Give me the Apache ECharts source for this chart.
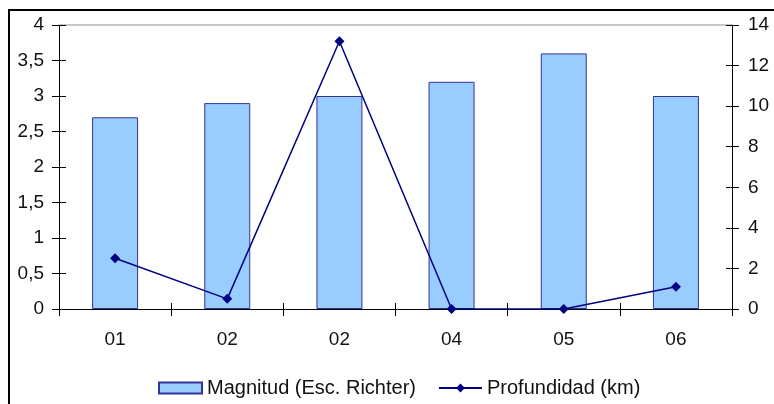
<!DOCTYPE html>
<html>
<head>
<meta charset="utf-8">
<script src="https://cdn.jsdelivr.net/npm/echarts@6/dist/echarts.min.js"></script>
<style>
  html, body { margin: 0; padding: 0; background: #fff; }
  #chart { width: 774px; height: 404px; }
</style>
</head>
<body>
<div id="chart"></div>
<script>
// Sismos: magnitud y profundidad por evento
const categories = ['01', '02', '02', '04', '05', '06'];
const magnitud = [2.7, 2.9, 3.0, 3.2, 3.6, 3.0];
const profundidad = [2.5, 0.5, 13.2, 0, 0, 1.1];
const magTicks = { min: 0, max: 4, interval: 0.5 };
const profTicks = { min: 0, max: 14, interval: 2 };

const font = 'Liberation Sans, Arial, sans-serif';
const labelStyle = { color: '#111', fontFamily: font, fontSize: 19 };

function commaFmt(v) { return String(v).replace('.', ','); }

const chart = echarts.init(document.getElementById('chart'), null, { renderer: 'canvas' });

const blackLine = { show: true, lineStyle: { color: '#000', width: 1 } };

chart.setOption({
  animation: false,
  backgroundColor: '#fff',
  grid: { left: 59, right: 42, top: 25, bottom: 95, containLabel: false },
  graphic: [{
    type: 'rect',
    shape: { x: 9, y: 10, width: 900, height: 600 },
    style: { fill: null, stroke: '#000', lineWidth: 2 },
    silent: true
  }],
  legend: {
    top: 373,
    left: 153,
    itemWidth: 43,
    itemHeight: 11,
    itemGap: 22,
    textStyle: { color: '#111', fontFamily: font, fontSize: 20 },
    data: [
      { name: 'Magnitud (Esc. Richter)', icon: 'rect' },
      { name: 'Profundidad (km)' }
    ]
  },
  xAxis: [{
    type: 'category',
    data: categories,
    position: 'bottom',
    axisLine: { show: true, onZero: false, lineStyle: { color: '#000', width: 1 } },
    axisTick: { show: true, inside: false, length: 7, lineStyle: { color: '#000' } },
    axisLabel: Object.assign({ margin: 21 }, labelStyle),
    splitLine: { show: false }
  }, {
    type: 'category',
    data: categories,
    position: 'bottom',
    axisLine: { show: false, onZero: false },
    axisTick: { show: true, inside: true, length: 6, lineStyle: { color: '#000' } },
    axisLabel: { show: false },
    splitLine: { show: false }
  }, {
    type: 'category',
    data: categories,
    position: 'top',
    axisLine: { show: true, onZero: false, lineStyle: { color: '#c8c8c8', width: 2 } },
    axisTick: { show: false },
    axisLabel: { show: false },
    splitLine: { show: false }
  }],
  yAxis: [{
    type: 'value',
    position: 'left',
    min: magTicks.min, max: magTicks.max, interval: magTicks.interval,
    axisLine: blackLine,
    axisTick: { show: true, inside: false, length: 7, lineStyle: { color: '#000' } },
    axisLabel: Object.assign({ margin: 15, formatter: commaFmt }, labelStyle),
    splitLine: { show: false }
  }, {
    type: 'value',
    position: 'right',
    min: profTicks.min, max: profTicks.max, interval: profTicks.interval,
    axisLine: blackLine,
    axisTick: { show: true, inside: false, length: 7, lineStyle: { color: '#000' } },
    axisLabel: Object.assign({ margin: 16 }, labelStyle),
    splitLine: { show: false }
  }, {
    type: 'value',
    position: 'left',
    min: magTicks.min, max: magTicks.max, interval: magTicks.interval,
    axisLine: { show: false },
    axisTick: { show: true, inside: true, length: 7, lineStyle: { color: '#000' } },
    axisLabel: { show: false },
    splitLine: { show: false }
  }, {
    type: 'value',
    position: 'right',
    min: profTicks.min, max: profTicks.max, interval: profTicks.interval,
    axisLine: { show: false },
    axisTick: { show: true, inside: true, length: 6, lineStyle: { color: '#000' } },
    axisLabel: { show: false },
    splitLine: { show: false }
  }],
  series: [{
    name: 'Magnitud (Esc. Richter)',
    type: 'bar',
    xAxisIndex: 0,
    yAxisIndex: 0,
    data: magnitud,
    barWidth: '41%',
    itemStyle: { color: '#99ccff', borderColor: '#333399', borderWidth: 1 }
  }, {
    name: 'Profundidad (km)',
    type: 'line',
    xAxisIndex: 0,
    yAxisIndex: 1,
    data: profundidad,
    symbol: 'diamond',
    symbolSize: 10,
    showAllSymbol: true,
    lineStyle: { color: '#000080', width: 1.5 },
    itemStyle: { color: '#000080' }
  }]
});
</script>
</body>
</html>
